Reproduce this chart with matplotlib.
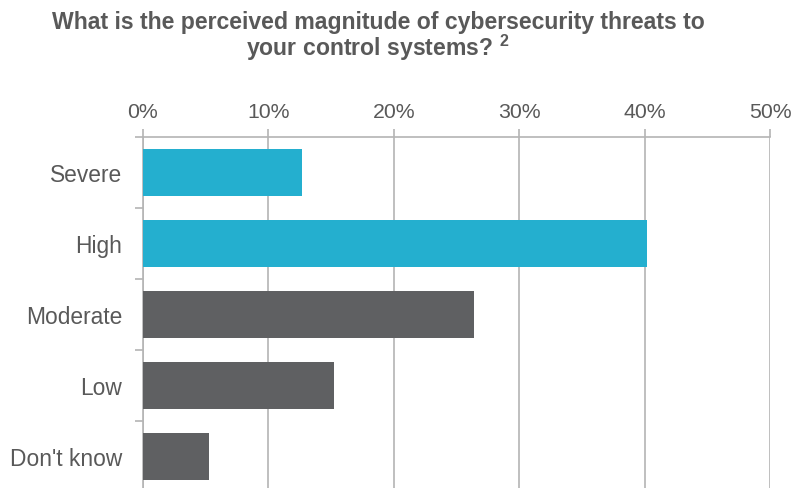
import matplotlib.pyplot as plt
import numpy as np
from matplotlib.ticker import PercentFormatter

categories = ["Severe", "High", "Moderate", "Low", "Don't know"]
values = [12.7, 40.2, 26.4, 15.2, 5.3]
colors = ["#24AFCF", "#24AFCF", "#5F6062", "#5F6062", "#5F6062"]
ticks = [0, 10, 20, 30, 40, 50]

text_color = "#595959"
line_color = "#B4B4B4"
plt.rcParams['font.family'] = ['Liberation Sans', 'DejaVu Sans']
plt.rcParams['mathtext.fontset'] = 'custom'
plt.rcParams['mathtext.bf'] = 'Liberation Sans:bold'

fig = plt.figure(figsize=(7.93, 4.89), dpi=100)
ax = fig.add_axes([0.1803, -0.008, 0.791, 0.726])

y = np.arange(len(categories))
ax.barh(y, values, height=0.67, color=colors, zorder=3)
ax.set_ylim(len(categories) - 0.5, -0.5)
ax.set_xlim(0, 50)

# percent axis on top, with small ticks above the top line
ax.xaxis.tick_top()
ax.set_xticks(ticks)
ax.xaxis.set_major_formatter(PercentFormatter(decimals=0))
ax.tick_params(axis='x', length=6, width=1.2, color=line_color, pad=5.5,
               labelsize=15.3, labelcolor=text_color)
ax.grid(axis='x', color=line_color, linewidth=1.2, zorder=0)

ax.set_yticks(y)
ax.set_yticklabels(categories)
ax.set_yticks(np.arange(len(categories) + 1) - 0.5, minor=True)
ax.tick_params(axis='y', which='major', length=0, pad=15, labelsize=16.4, labelcolor=text_color)
ax.tick_params(axis='y', which='minor', length=6, color=line_color, width=1.2)

for s in ['right', 'bottom']:
    ax.spines[s].set_visible(False)
for s in ['left', 'top']:
    ax.spines[s].set_color(line_color)
    ax.spines[s].set_linewidth(1.2)

fig.text(0.477, 0.925, "What is the perceived magnitude of cybersecurity threats to\nyour control systems? $^\\mathbf{2}$",
         ha='center', va='center', fontsize=16.6, fontweight='bold', color=text_color, linespacing=0.95)

fig.savefig("out.png", dpi=100)
